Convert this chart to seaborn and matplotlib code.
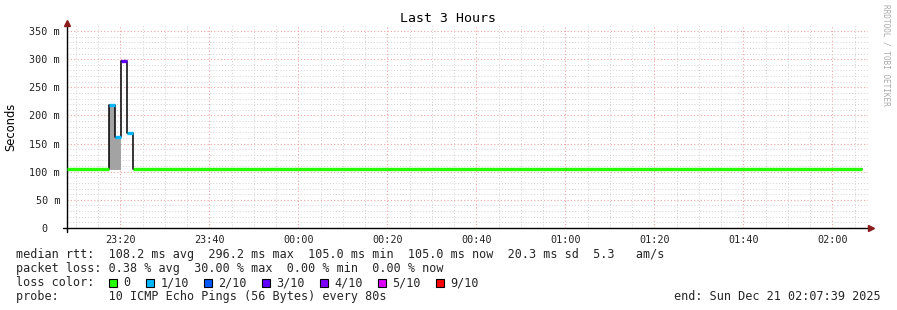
import matplotlib
matplotlib.use("Agg")
import matplotlib.pyplot as plt
import seaborn as sns
import pandas as pd
from matplotlib.patches import Rectangle
from matplotlib.ticker import FixedLocator, FuncFormatter

# ---------------- data ----------------
# step edges, minutes since 00:00 of Dec 20 (1440 = midnight Dec 21)
step_edges = [1388.0, 1397.47, 1398.8, 1400.13, 1401.47, 1402.8, 1566.6]
median_ms = [105, 218, 162, 296, 168, 105]          # median rtt per step
loss_idx = [0, 1, 1, 3, 1, 0]                        # loss bucket per step
smoke_top = [None, 218, 162, None, None, None]       # top of grey smoke band
smoke_bottom = 103

loss_labels = ["0", "1/10", "2/10", "3/10", "4/10", "5/10", "9/10"]
loss_colors = ["#26ff00", "#00b8ff", "#0059ff", "#5e00ff", "#7e00ff", "#dd00ff", "#ff0000"]
loss_color_by_idx = {0: "#26ff00", 1: "#00b8ff", 2: "#0059ff", 3: "#5e00ff",
                     4: "#7e00ff", 5: "#dd00ff", 9: "#ff0000"}

y_ticks = [0, 50, 100, 150, 200, 250, 300, 350]
y_tick_labels = ["0  ", "50 m", "100 m", "150 m", "200 m", "250 m", "300 m", "350 m"]
x_ticks = [1400, 1420, 1440, 1460, 1480, 1500, 1520, 1540, 1560]

title = "Last 3 Hours"
ylabel = "Seconds"
line1 = "median rtt:  108.2 ms avg  296.2 ms max  105.0 ms min  105.0 ms now  20.3 ms sd  5.3   am/s"
line2 = "packet loss: 0.38 % avg  30.00 % max  0.00 % min  0.00 % now"
line4a = "probe:       10 ICMP Echo Pings (56 Bytes) every 80s"
line4b = "end: Sun Dec 21 02:07:39 2025"
watermark = "RRDTOOL / TOBI OETIKER"

# ---------------- figure ----------------
sns.set_theme(style="white")
plt.rcParams["font.family"] = ["DejaVu Sans Mono", "DejaVu Sans"]

W, H = 897, 310
fig = plt.figure(figsize=(W / 100, H / 100), dpi=100)
fig.patch.set_facecolor("white")

ax_left, ax_right, ax_bottom_px = 67, 868, 228
ymax = 360
ax_top_px = ax_bottom_px - ymax * (197 / 350)
ax = fig.add_axes([ax_left / W, 1 - ax_bottom_px / H,
                   (ax_right - ax_left) / W, (ax_bottom_px - ax_top_px) / H])
ax.set_facecolor("white")

ax.set_xlim(1388.0, 1568.0)
ax.set_ylim(0, ymax)

# grid
ax.xaxis.set_major_locator(FixedLocator(x_ticks))
ax.xaxis.set_minor_locator(FixedLocator([m for m in range(1390, 1568, 5)]))
ax.yaxis.set_major_locator(FixedLocator(y_ticks))
ax.yaxis.set_minor_locator(FixedLocator(list(range(10, 351, 10))))
ax.grid(which="minor", color="#d2d2d2", linestyle=(0, (1, 2)), linewidth=0.7)
ax.grid(which="major", color="#eda4a4", linestyle=(0, (1, 2)), linewidth=0.8)
ax.set_axisbelow(True)

# smoke
for i, top in enumerate(smoke_top):
    if top is not None:
        ax.fill_between([step_edges[i], step_edges[i + 1]], smoke_bottom, top,
                        color="#a3a3a3", linewidth=0, zorder=2)

# black outline step line
df = pd.DataFrame({"t": step_edges, "rtt": median_ms + [median_ms[-1]]})
sns.lineplot(data=df, x="t", y="rtt", ax=ax, color="black", linewidth=1.1,
             drawstyle="steps-post", zorder=3, sort=False, estimator=None)

# coloured median segments
ax.hlines(median_ms, step_edges[:-1], step_edges[1:],
          colors=[loss_color_by_idx[l] for l in loss_idx], linewidth=2.4, zorder=4)

ax.set_xlabel("")
ax.set_ylabel("")

def fmt_time(v, pos):
    m = int(round(v)) % 1440
    return f"{m // 60:02d}:{m % 60:02d}"

ax.xaxis.set_major_formatter(FuncFormatter(fmt_time))
ax.set_yticklabels(y_tick_labels)
ax.tick_params(axis="both", which="major", labelsize=7.3, length=3, width=0.8,
               color="#666666", direction="out", pad=2)
ax.tick_params(axis="both", which="minor", length=2, width=0.6, color="#999999",
               direction="out")
for lab in ax.get_xticklabels() + ax.get_yticklabels():
    lab.set_family("DejaVu Sans Mono")
    lab.set_color("#222222")

for s in ["top", "right"]:
    ax.spines[s].set_visible(False)
for s in ["left", "bottom"]:
    ax.spines[s].set_color("black")
    ax.spines[s].set_linewidth(1.0)

# small axis overhangs and arrows
ax.plot([-4 / 801, 0], [0, 0], color="black", lw=1.0, transform=ax.transAxes,
        clip_on=False, zorder=5)
ax.plot([0, 0], [-4 / 202.6, 0], color="black", lw=1.0, transform=ax.transAxes,
        clip_on=False, zorder=5)
ax.plot([0], [1.014], marker="^", markersize=5, color="#8b1a1a",
        transform=ax.transAxes, clip_on=False, zorder=5)
ax.plot([1.0035], [0], marker=">", markersize=5, color="#8b1a1a",
        transform=ax.transAxes, clip_on=False, zorder=5)

def fx(x):
    return x / W

def fy(y):
    return 1 - y / H

# title, ylabel, watermark
fig.text(fx(448), fy(19), title, ha="center", va="center", fontsize=9.5,
         family="DejaVu Sans Mono", color="black")
fig.text(fx(11), fy(127), ylabel, ha="center", va="center", rotation=90,
         fontsize=8.3, family="DejaVu Sans", color="black")
fig.text(fx(886), fy(4), watermark, ha="center", va="top", rotation=270,
         fontsize=5.6, family="DejaVu Sans Mono", color="#aaaaaa")

# bottom legend text
fs = 8.5
fig.text(fx(16), fy(254.3), line1, ha="left", va="center", fontsize=fs,
         family="DejaVu Sans Mono")
fig.text(fx(16), fy(268.5), line2, ha="left", va="center", fontsize=fs,
         family="DejaVu Sans Mono")
fig.text(fx(16), fy(282.5), "loss color:", ha="left", va="center", fontsize=fs,
         family="DejaVu Sans Mono")
square_x = [108.5, 146, 203.5, 261.5, 319.5, 377.5, 435.5]
for sx, lab, col in zip(square_x, loss_labels, loss_colors):
    fig.add_artist(Rectangle((fx(sx), fy(286.5)), 8 / W, 8 / H,
                             transform=fig.transFigure, facecolor=col,
                             edgecolor="black", linewidth=0.8))
    fig.text(fx(sx + 15), fy(282.5), lab, ha="left", va="center", fontsize=fs,
             family="DejaVu Sans Mono")
fig.text(fx(16), fy(296.7), line4a, ha="left", va="center", fontsize=fs,
         family="DejaVu Sans Mono")
fig.text(fx(881), fy(296.7), line4b, ha="right", va="center", fontsize=fs,
         family="DejaVu Sans Mono")

fig.savefig("out.png", dpi=100, facecolor="white")
